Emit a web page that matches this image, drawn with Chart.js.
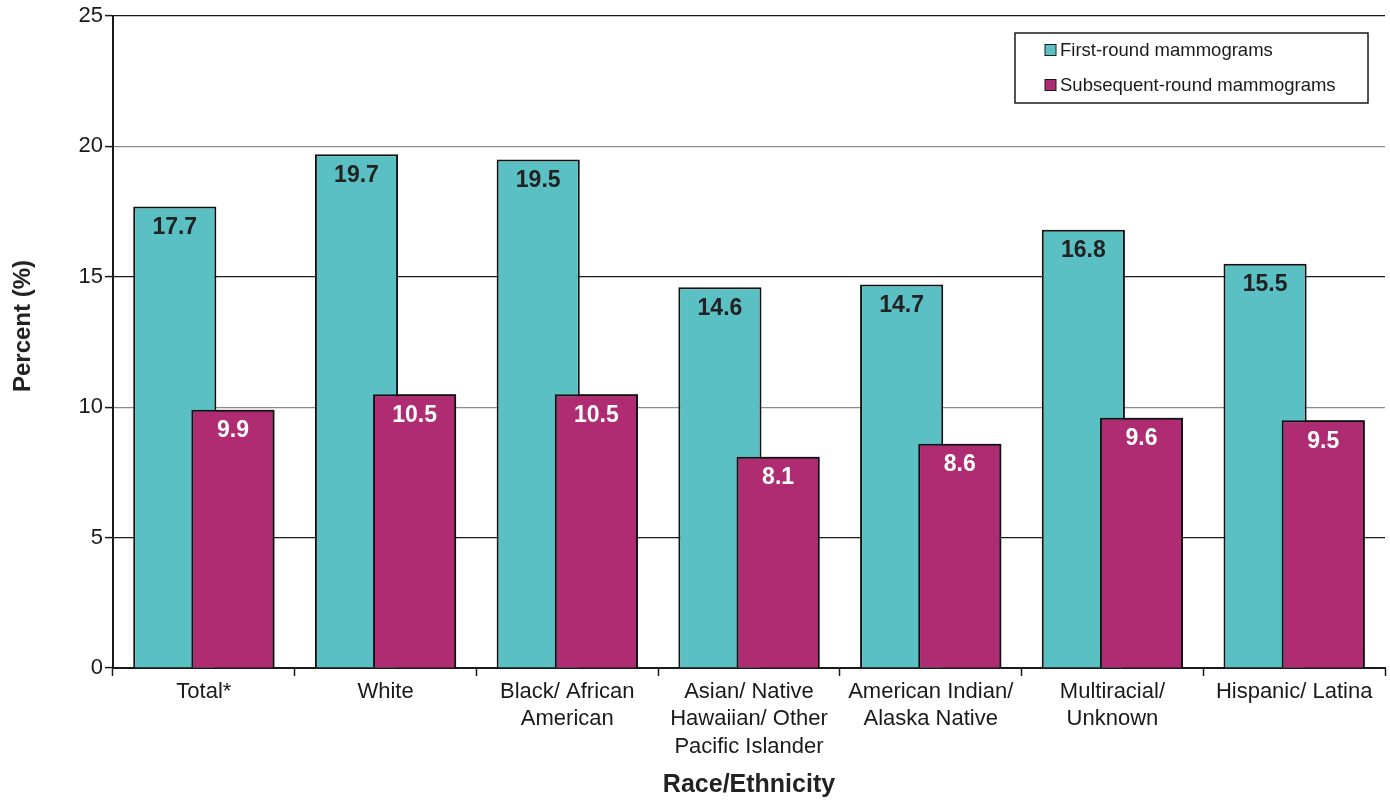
<!DOCTYPE html>
<html lang="en">
  <head>
    <meta charset="UTF-8">
    <script src="https://cdn.jsdelivr.net/npm/chart.js@4.4.1/dist/chart.umd.min.js"></script>
    <style>
      html, body { margin: 0; padding: 0; background: #FFFFFF; }
      #wrap { width: 1390px; height: 801px; }
    </style>
  </head>
  <body>
    <div id="wrap"><canvas id="screeningChart" width="1390" height="801"></canvas></div>
    <script>
      // Race/ethnicity groups (multi-line labels)
      const categories = [
        ['Total*'],
        ['White'],
        ['Black/ African', 'American'],
        ['Asian/ Native', 'Hawaiian/ Other', 'Pacific Islander'],
        ['American Indian/', 'Alaska Native'],
        ['Multiracial/', 'Unknown'],
        ['Hispanic/ Latina']
      ];
      const seriesNames = ['First-round mammograms', 'Subsequent-round mammograms'];
      const firstRound = [17.7, 19.7, 19.5, 14.6, 14.7, 16.8, 15.5];
      const subsequentRound = [9.9, 10.5, 10.5, 8.1, 8.6, 9.6, 9.5];
      const yTicks = [0, 5, 10, 15, 20, 25];

      const TEAL = '#5BC0C4';
      const MAGENTA = '#AF2C72';
      const FONT = 'Arial, "Liberation Sans", sans-serif';

      // second series overlaps the first, so paint it again on top,
      // then put the value labels just inside the top of every bar
      const barLabels = {
        id: 'barLabels',
        afterDatasetsDraw(chart) {
          const ctx = chart.ctx;
          const area = chart.chartArea;
          ctx.save();
          ctx.beginPath();
          ctx.rect(area.left, area.top, area.right - area.left, area.bottom - area.top);
          ctx.clip();
          chart.getDatasetMeta(1).data.forEach(bar => bar.draw(ctx));
          ctx.restore();

          ctx.save();
          ctx.font = 'bold 23px ' + FONT;
          ctx.textAlign = 'center';
          ctx.textBaseline = 'middle';
          chart.data.datasets.forEach((ds, i) => {
            const meta = chart.getDatasetMeta(i);
            ctx.fillStyle = i === 0 ? '#222222' : '#FFFFFF';
            meta.data.forEach((bar, j) => {
              ctx.fillText(ds.data[j].toFixed(1), bar.x, bar.y + 21);
            });
          });
          ctx.restore();
        }
      };

      // boxed legend in the upper right corner, plus the rotated y title
      const boxLegend = {
        id: 'boxLegend',
        afterDraw(chart) {
          const ctx = chart.ctx;
          const area = chart.chartArea;
          const right = area.right - 17;
          const left = right - 353;
          const top = area.top + 17;
          const height = 70;
          ctx.save();
          ctx.fillStyle = '#FFFFFF';
          ctx.fillRect(left, top, right - left, height);
          ctx.strokeStyle = '#1a1a1a';
          ctx.lineWidth = 1.5;
          ctx.strokeRect(left, top, right - left, height);
          ctx.font = '18.5px ' + FONT;
          ctx.textBaseline = 'middle';
          chart.data.datasets.forEach((ds, i) => {
            const cy = top + 17 + i * 35;
            ctx.fillStyle = ds.backgroundColor;
            ctx.fillRect(left + 30, cy - 5.5, 11, 11);
            ctx.strokeStyle = '#1a1a1a';
            ctx.lineWidth = 1;
            ctx.strokeRect(left + 30, cy - 5.5, 11, 11);
            ctx.fillStyle = '#1a1a1a';
            ctx.fillText(ds.label, left + 45, cy + 1);
          });

          ctx.translate(23, area.top + (area.bottom - area.top) / 2 - 16);
          ctx.rotate(-Math.PI / 2);
          ctx.textAlign = 'center';
          ctx.fillStyle = '#222222';
          ctx.font = 'bold 24px ' + FONT;
          ctx.fillText('Percent (%)', 0, 0);
          ctx.restore();
        }
      };

      const ctx = document.getElementById('screeningChart').getContext('2d');
      const screeningChart = new Chart(ctx, {
        type: 'bar',
        data: {
          labels: categories,
          datasets: [
            {
              label: seriesNames[0],
              data: firstRound,
              backgroundColor: TEAL,
              borderColor: '#111111',
              borderWidth: 2,
              categoryPercentage: 0.64,
              barPercentage: 1.43
            },
            {
              label: seriesNames[1],
              data: subsequentRound,
              backgroundColor: MAGENTA,
              borderColor: '#111111',
              borderWidth: 2,
              categoryPercentage: 0.64,
              barPercentage: 1.43
            }
          ]
        },
        options: {
          responsive: false,
          animation: false,
          layout: { padding: { top: 16, right: 5, left: 0, bottom: 0 } },
          plugins: {
            legend: { display: false },
            tooltip: { enabled: false }
          },
          scales: {
            x: {
              afterFit(scale) { scale.height = 133; },
              grid: {
                offset: true,
                drawOnChartArea: false,
                drawTicks: true,
                tickLength: 8,
                tickColor: '#1a1a1a',
                tickWidth: 1.5
              },
              border: { display: true, color: '#1a1a1a', width: 2 },
              ticks: {
                color: '#1a1a1a',
                font: { family: FONT, size: 22, lineHeight: 1.25 },
                padding: 2,
                maxRotation: 0,
                autoSkip: false
              },
              title: {
                display: true,
                text: 'Race/Ethnicity',
                color: '#222222',
                font: { family: FONT, size: 25, weight: 'bold' },
                padding: { top: 0, bottom: 1 }
              }
            },
            y: {
              min: 0,
              max: 25,
              afterFit(scale) { scale.width = 113; },
              afterBuildTicks(scale) { scale.ticks = yTicks.map(v => ({ value: v })); },
              grid: {
                color: c => c.tick.value === 0 ? 'rgba(0,0,0,0)' : (c.tick.value % 10 === 0 ? '#8a8a8a' : '#1a1a1a'),
                lineWidth: 1.2,
                tickColor: '#1a1a1a',
                tickLength: 8,
                tickWidth: 1.5
              },
              border: { display: true, color: '#1a1a1a', width: 2 },
              ticks: {
                color: '#1a1a1a',
                font: { family: FONT, size: 22 },
                padding: 2
              }
            }
          }
        },
        plugins: [barLabels, boxLegend]
      });
    </script>
  </body>
</html>
